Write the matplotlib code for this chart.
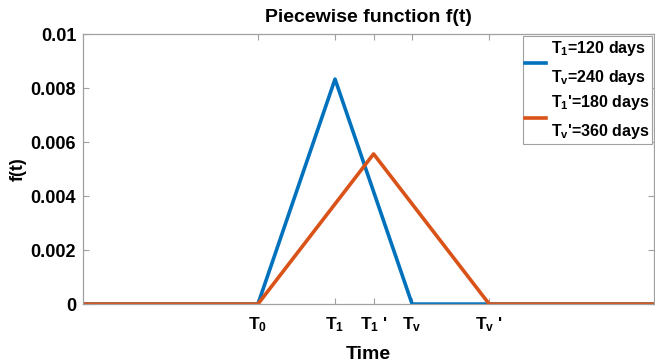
import matplotlib
matplotlib.use('Agg')
import matplotlib.pyplot as plt

plt.rcParams['font.family'] = ['Liberation Sans', 'DejaVu Sans']
plt.rcParams['font.weight'] = 'bold'
plt.rcParams['mathtext.fontset'] = 'custom'
plt.rcParams['mathtext.rm'] = 'Liberation Sans:bold'
plt.rcParams['mathtext.bf'] = 'Liberation Sans:bold'
plt.rcParams['mathtext.it'] = 'Liberation Sans:bold'
plt.rcParams['mathtext.default'] = 'bf'

# Zeitpunkte (Tage, T0 = 0)
t_blue = [-272, 0, 120, 240, 617]
f_blue = [0, 0, 0.00833, 0, 0]
t_orange = [-272, 0, 180, 360, 617]
f_orange = [0, 0, 0.00556, 0, 0]

tick_pos = [0, 120, 180, 240, 360]
tick_labels = [r'$T_0$', r'$T_1$', r"$T_1$ '", r'$T_v$', r"$T_v$ '"]
y_ticks = [0, 0.002, 0.004, 0.006, 0.008, 0.01]
y_labels = ['0', '0.002', '0.004', '0.006', '0.008', '0.01']

fig = plt.figure(figsize=(6.55, 3.62), dpi=100)
ax = fig.add_axes([0.127, 0.160, 0.872, 0.746])

ax.plot(t_blue, f_blue, color='#0072BD', lw=2.6,
        label='$T_1$=120 days\n$T_v$=240 days')
ax.plot(t_orange, f_orange, color='#D95319', lw=2.6,
        label="$T_1$'=180 days\n$T_v$'=360 days")

ax.set_xlim(-272, 617)
ax.set_ylim(0, 0.01)
ax.set_xticks(tick_pos)
ax.set_xticklabels(tick_labels, fontsize=12.5)
ax.set_yticks(y_ticks)
ax.set_yticklabels(y_labels, fontsize=13)
ax.tick_params(direction='in', top=True, right=True, color='#a0a0a0',
               length=4, width=0.8)
ax.tick_params(axis='x', pad=8)
ax.tick_params(axis='y', pad=5)
for s in ax.spines.values():
    s.set_color('#a0a0a0')
    s.set_linewidth(0.9)

ax.set_title('Piecewise function f(t)', fontsize=14, fontweight='bold', pad=9)
ax.set_xlabel('Time', fontsize=14, fontweight='bold', labelpad=9)
ax.set_ylabel('f(t)', fontsize=13, fontweight='bold', labelpad=3)

leg = ax.legend(loc='upper right', fontsize=11.5, handlelength=1.3,
                fancybox=False, framealpha=1, borderaxespad=0.15,
                handletextpad=0.3, labelspacing=0.35, borderpad=0.15)
leg.get_frame().set_edgecolor('#a0a0a0')
leg.get_frame().set_linewidth(0.8)
for t in leg.get_texts():
    t.set_linespacing(1.75)

fig.savefig('out.png', dpi=100)
